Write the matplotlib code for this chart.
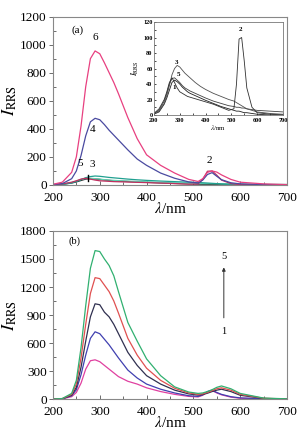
import matplotlib
matplotlib.use("Agg")
import matplotlib.pyplot as plt
from matplotlib.ticker import MultipleLocator

plt.rcParams['font.family'] = ['Liberation Serif', 'DejaVu Serif']
plt.rcParams['mathtext.fontset'] = 'stix'

wl = [200, 220, 240, 250, 260, 270, 280, 290, 300, 310, 320, 330, 340, 360, 380,
      400, 430, 460, 490, 510, 520, 530, 540, 550, 560, 580, 600, 650, 700]

# panel (a)
a6 = [5, 20, 90, 200, 420, 700, 900, 955, 935, 870, 800, 730, 650, 480, 330,
      215, 140, 85, 40, 25, 45, 90, 100, 92, 72, 40, 20, 8, 3]
a4 = [3, 10, 45, 100, 210, 350, 450, 475, 465, 430, 390, 355, 320, 250, 185,
      140, 85, 48, 22, 14, 35, 75, 88, 62, 38, 16, 8, 3, 1]
a3 = [2, 5, 15, 25, 38, 52, 60, 64, 62, 58, 54, 51, 48, 42, 37,
      33, 28, 24, 20, 18, 16, 14, 12, 10, 8, 6, 4, 2, 1]
a5 = [2, 6, 18, 28, 40, 47, 48, 45, 42, 38, 35, 33, 31, 28, 25,
      22, 18, 15, 12, 11, 10, 10, 9, 9, 8, 7, 6, 5, 4]
a1 = [1, 4, 14, 22, 32, 42, 45, 43, 40, 36, 33, 30, 28, 25, 22,
      19, 15, 11, 8, 6, 5, 5, 4, 3, 3, 2, 1, 0, 0]
a2 = [2, 8, 20, 30, 42, 48, 42, 35, 30, 28, 26, 24, 23, 21, 19,
      17, 14, 10, 6, 8, 40, 98, 100, 70, 35, 10, 3, 1, 0]

# panel (b)
b5 = [0, 5, 60, 200, 550, 1000, 1400, 1590, 1580, 1500, 1430, 1320, 1150, 820, 620,
      430, 250, 130, 75, 60, 65, 80, 100, 125, 140, 110, 60, 10, 2]
b4 = [0, 4, 50, 160, 440, 800, 1130, 1300, 1290, 1220, 1150, 1050, 920, 650, 470,
      330, 200, 115, 65, 50, 55, 70, 90, 110, 120, 95, 50, 8, 1]
b3 = [0, 3, 40, 125, 340, 620, 880, 1020, 1010, 930, 880, 800, 700, 500, 360,
      250, 160, 95, 55, 42, 48, 62, 80, 95, 105, 80, 40, 6, 1]
b2 = [0, 3, 35, 100, 260, 470, 650, 720, 700, 640, 580, 510, 440, 310, 225,
      160, 105, 65, 35, 28, 45, 80, 95, 70, 50, 25, 12, 3, 1]
b1 = [0, 2, 25, 70, 170, 320, 410, 420, 400, 360, 320, 280, 240, 190, 160,
      120, 80, 50, 28, 22, 40, 75, 90, 65, 45, 20, 8, 2, 0]

fig = plt.figure(figsize=(3.06, 4.41), dpi=100)
ax1 = fig.add_axes([0.173, 0.5805, 0.765, 0.382])
ax2 = fig.add_axes([0.173, 0.0952, 0.765, 0.381])
ins = fig.add_axes([0.503, 0.7392, 0.4216, 0.2109])

lw = 0.9
ax1.plot(wl, a1, color='#303030', lw=lw)
ax1.plot(wl, a5, color='#60d0b0', lw=lw)
ax1.plot(wl, a3, color='#20a090', lw=lw)
ax1.plot(wl, a2, color='#c03060', lw=lw)
ax1.plot(wl, a4, color='#4a4aa0', lw=lw)
ax1.plot(wl, a6, color='#e84080', lw=lw)

ax2.plot(wl, b1, color='#e040a0', lw=lw)
ax2.plot(wl, b2, color='#4040b0', lw=lw)
ax2.plot(wl, b3, color='#303050', lw=lw)
ax2.plot(wl, b4, color='#e05050', lw=lw)
ax2.plot(wl, b5, color='#30b070', lw=lw)

for c, g in [(a1, '#202020'), (a5, '#404040'), (a3, '#505050'), (a2, '#303030')]:
    ins.plot(wl, c, color=g, lw=0.6)

for ax, ymax, ystep in [(ax1, 1200, 200), (ax2, 1800, 300)]:
    ax.set_xlim(200, 700)
    ax.set_ylim(0, ymax)
    ax.xaxis.set_major_locator(MultipleLocator(100))
    ax.xaxis.set_minor_locator(MultipleLocator(50))
    ax.yaxis.set_major_locator(MultipleLocator(ystep))
    ax.yaxis.set_minor_locator(MultipleLocator(ystep / 2))
    ax.tick_params(axis='both', which='both', direction='in', labelsize=9.5,
                   colors='#555555', labelcolor='black', length=3, width=0.6, pad=1.5)
    ax.tick_params(which='minor', length=2)
    ax.tick_params(axis='y', direction='out')
    ax.tick_params(axis='x', pad=5)
    for s in ax.spines.values():
        s.set_color('#888888')
        s.set_linewidth(0.8)
    ax.set_xlabel(r'$\lambda$/nm', fontsize=11, labelpad=-2)
    ax.set_ylabel(r'$I_{\mathrm{RRS}}$', fontsize=13, labelpad=1)

ax1.text(0.08, 0.92, '(a)', transform=ax1.transAxes, fontsize=8, ha='left', va='center')
ax1.text(290, 1030, '6', fontsize=8, ha='center')
ax1.text(285, 380, '4', fontsize=8, ha='center')
ax1.text(259, 135, '5', fontsize=8, ha='center')
ax1.text(285, 125, '3', fontsize=8, ha='center')
ax1.text(534, 155, '2', fontsize=8, ha='center')
ax1.plot([275, 275], [25, 70], color='black', lw=1)

ax2.text(0.065, 0.94, '(b)', transform=ax2.transAxes, fontsize=7.5, ha='left', va='center')
ax2.annotate('', xy=(565, 1440), xytext=(565, 840),
             arrowprops=dict(arrowstyle='-|>', color='#333333', lw=0.7, mutation_scale=5))
ax2.text(565, 1500, '5', fontsize=7.5, ha='center')
ax2.text(565, 700, '1', fontsize=7.5, ha='center')

ins.set_xlim(200, 700)
ins.set_ylim(0, 120)
ins.xaxis.set_major_locator(MultipleLocator(100))
ins.xaxis.set_minor_locator(MultipleLocator(50))
ins.yaxis.set_major_locator(MultipleLocator(20))
ins.yaxis.set_minor_locator(MultipleLocator(10))
ins.tick_params(axis='both', which='both', direction='in', labelsize=4.5,
                length=1.5, width=0.5, pad=1)
ins.tick_params(axis='x', pad=2)
for lab in ins.get_xticklabels() + ins.get_yticklabels():
    lab.set_fontweight('bold')
for s in ins.spines.values():
    s.set_color('#777777')
    s.set_linewidth(0.6)
ins.set_xlabel(r'$\lambda$/nm', fontsize=5, labelpad=0)
ins.set_ylabel(r'$I_{\mathrm{RRS}}$', fontsize=6, labelpad=1.5)
ins.text(536, 108, '2', fontsize=5, fontweight='bold', ha='center')
ins.text(288, 66, '3', fontsize=5, fontweight='bold', ha='center')
ins.text(295, 50, '5', fontsize=5, fontweight='bold', ha='center')
ins.text(280, 33, '1', fontsize=5, fontweight='bold', ha='center')

fig.savefig('out.png', dpi=100)
